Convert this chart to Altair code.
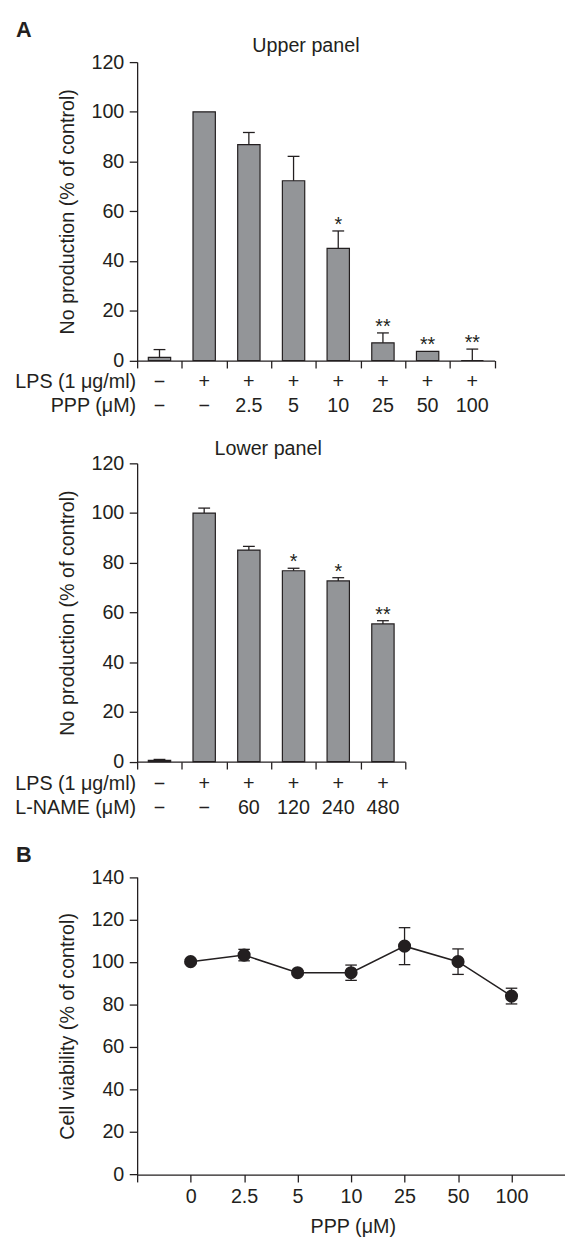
import json
import altair as alt
import pandas as pd

FONT = "Liberation Sans, Arial, Helvetica, sans-serif"
INK = "#231f20"
BAR_FILL = "#939598"

# ---------------- data ----------------
# A, upper panel
up_lps = ["−", "+", "+", "+", "+", "+", "+", "+"]
up_ppp = ["−", "−", "2.5", "5", "10", "25", "50", "100"]
up_val = [1.3, 100.0, 86.8, 72.3, 45.1, 7.1, 3.7, 0.0]
up_err = [3.1, 0.0, 4.9, 9.8, 7.0, 4.0, 0.0, 4.6]
up_sig = ["", "", "", "", "*", "**", "**", "**"]

# A, lower panel
lo_lps = ["−", "+", "+", "+", "+", "+"]
lo_lname = ["−", "−", "60", "120", "240", "480"]
lo_val = [0.5, 100.0, 85.1, 76.8, 72.7, 55.4]
lo_err = [0.4, 2.0, 1.5, 1.0, 1.3, 1.3]
lo_sig = ["", "", "", "*", "*", "**"]

# B
b_labels = ["0", "2.5", "5", "10", "25", "50", "100"]
b_val = [100.2, 103.3, 95.0, 95.0, 107.5, 100.2, 84.0]
b_err = [1.0, 2.7, 1.0, 3.6, 8.7, 6.0, 3.7]

Y_TITLE_A = "No production (% of control)"
Y_TITLE_B = "Cell viability (% of control)"

STEP = 45.33
U_W, U_H = STEP * 8, 302.7
L_W, L_H = STEP * 6, 302.6
B_W, B_PLOT_H, B_OFF = 434.0, 301.7, 12.7
B_H = B_PLOT_H + B_OFF

TXT = dict(font=FONT, fontSize=20, color=INK)


def single_text(text, x, y, **kw):
    props = dict(TXT)
    props.update(kw)
    return alt.Chart(pd.DataFrame({"t": [text]})).mark_text(**props).encode(
        x=alt.value(x), y=alt.value(y), text="t:N"
    )


def bar_panel(lps, conc, vals, errs, sig, row1, row2, width, height,
              title, title_x, title_y, letter=None, row_dy=(27.8, 52.3)):
    n = len(vals)
    df = pd.DataFrame({"i": list(range(n)), "v": vals, "e": errs, "sig": sig,
                       "lps": lps, "conc": conc})
    base = alt.Chart(df).transform_calculate(
        x0="datum.i + 0.25", x1="datum.i + 0.75", xc="datum.i + 0.5",
        top="datum.v + datum.e"
    )
    xscale = alt.Scale(domain=[0, n], nice=False, zero=False)
    yscale = alt.Scale(domain=[0, 120], nice=False)
    xaxis = alt.Axis(values=list(range(n + 1)), labels=False, title=None,
                     grid=False, tickSize=7.5)
    yaxis = alt.Axis(values=list(range(0, 121, 20)), title=Y_TITLE_A,
                     titleX=-64.1, titleY=height / 2, titleAngle=270,
                     titleAlign="center", titleBaseline="alphabetic",
                     grid=False, tickSize=8, labelPadding=5.5)
    bars = base.mark_rect(fill=BAR_FILL, stroke=INK, strokeWidth=1.2).encode(
        x=alt.X("x0:Q", scale=xscale, axis=xaxis, title=None),
        x2="x1:Q",
        y=alt.Y("v:Q", scale=yscale, axis=yaxis, title=Y_TITLE_A),
        y2=alt.datum(0),
    )
    eb = base.transform_filter("datum.e > 0")
    whisk = eb.mark_rule(color=INK, strokeWidth=1.3).encode(
        x=alt.X("xc:Q", title=None), y=alt.Y("v:Q", title=Y_TITLE_A), y2="top:Q"
    )
    cap = eb.mark_tick(orient="horizontal", size=12, thickness=1.3,
                       color=INK, opacity=1).encode(
        x=alt.X("xc:Q", title=None), y=alt.Y("top:Q", title=Y_TITLE_A)
    )
    stars = base.transform_filter("datum.sig != ''").mark_text(
        baseline="alphabetic", align="center", **TXT
    ).encode(x=alt.X("xc:Q", title=None), y=alt.Y("top:Q", title=Y_TITLE_A),
             text="sig:N")
    r1 = base.mark_text(baseline="alphabetic", align="center", **TXT).encode(
        x=alt.X("xc:Q", title=None), y=alt.value(height + row_dy[0]), text="lps:N"
    )
    r2 = base.mark_text(baseline="alphabetic", align="center", **TXT).encode(
        x=alt.X("xc:Q", title=None), y=alt.value(height + row_dy[1]), text="conc:N"
    )
    t1 = single_text(row1, -1, height + row_dy[0], align="right", baseline="alphabetic")
    t2 = single_text(row2, -1, height + row_dy[1], align="right", baseline="alphabetic")
    ttl = single_text(title, title_x, title_y, align="center", baseline="alphabetic")
    layers = [bars, whisk, cap, stars, r1, r2, t1, t2, ttl]
    if letter:
        layers.append(single_text(letter, -123, -25.7, align="left",
                                  baseline="alphabetic", fontWeight="bold",
                                  fontSize=22))
        # invisible layout anchor: fixes the page position of the plot origin
        anchor = alt.Chart(pd.DataFrame({"a": [0]})).mark_rule(
            opacity=0, strokeWidth=1).encode(
            x=alt.value(-130.5), y=alt.value(-45.5), y2=alt.value(0))
        layers.append(anchor)
    return alt.layer(*layers).properties(width=width, height=height)


upper = bar_panel(up_lps, up_ppp, up_val, up_err, up_sig,
                  "LPS (1 μg/ml)", "PPP (μM)", U_W, U_H,
                  "Upper panel", 171.2, -10.7, letter="A")
lower = bar_panel(lo_lps, lo_lname, lo_val, lo_err, lo_sig,
                  "LPS (1 μg/ml)", "L-NAME (μM)", L_W, L_H,
                  "Lower panel", 132.9, -8.0, row_dy=(28.4, 52.7))

# ---------------- panel B ----------------
dfb = pd.DataFrame({"i": list(range(1, len(b_val) + 1)), "v": b_val, "e": b_err})
bbase = alt.Chart(dfb).transform_calculate(lo="datum.v - datum.e",
                                           hi="datum.v + datum.e")
label_expr = json.dumps([""] + b_labels, ensure_ascii=False) + "[datum.value]"
bx_scale = alt.Scale(domain=[0, 8], nice=False, zero=False)
by_scale = alt.Scale(domain=[0, 140], range=[B_H, B_OFF], nice=False)
bx_axis = alt.Axis(values=list(range(0, 8)), labelExpr=label_expr,
                   title="PPP (μM)", titleX=218.7, titleY=59,
                   titleAlign="center", titleBaseline="alphabetic",
                   grid=False, tickSize=7.5, labelPadding=5, labelFlush=False)
by_axis = alt.Axis(values=list(range(0, 141, 20)), title=Y_TITLE_B,
                   titleX=-64.1, titleY=B_OFF + B_PLOT_H / 2, titleAngle=270,
                   titleAlign="center", titleBaseline="alphabetic",
                   grid=False, tickSize=8, labelPadding=5.5)

b_err_rule = bbase.mark_rule(color=INK, strokeWidth=1.3).encode(
    x=alt.X("i:Q", scale=bx_scale, axis=bx_axis, title="PPP (μM)"),
    y=alt.Y("lo:Q", scale=by_scale, axis=by_axis, title=Y_TITLE_B),
    y2="hi:Q",
)
b_cap_hi = bbase.mark_tick(orient="horizontal", size=11.7, thickness=1.3,
                           color=INK, opacity=1).encode(
    x=alt.X("i:Q", title="PPP (μM)"), y=alt.Y("hi:Q", title=Y_TITLE_B))
b_cap_lo = bbase.mark_tick(orient="horizontal", size=11.7, thickness=1.3,
                           color=INK, opacity=1).encode(
    x=alt.X("i:Q", title="PPP (μM)"), y=alt.Y("lo:Q", title=Y_TITLE_B))
b_line = bbase.mark_line(color=INK, strokeWidth=1.6).encode(
    x=alt.X("i:Q", title="PPP (μM)"), y=alt.Y("v:Q", title=Y_TITLE_B))
b_pts = bbase.mark_circle(color=INK, size=177, opacity=1).encode(
    x=alt.X("i:Q", title="PPP (μM)"), y=alt.Y("v:Q", title=Y_TITLE_B))
b_letter = single_text("B", -123, -2.3, align="left", baseline="alphabetic",
                       fontWeight="bold", fontSize=22)

panel_b = alt.layer(b_err_rule, b_cap_hi, b_cap_lo, b_line, b_pts, b_letter).properties(
    width=B_W, height=B_H)

chart = alt.vconcat(upper, lower, panel_b, spacing=104, bounds="flush").properties(
    padding={"left": 0, "top": 0, "right": 0, "bottom": 0}
).configure_view(stroke=None).configure_axis(
    domainColor=INK, tickColor=INK, labelColor=INK, titleColor=INK,
    labelFont=FONT, titleFont=FONT, labelFontSize=20, titleFontSize=20,
    titleFontWeight="normal", domainWidth=1.3, tickWidth=1.3, grid=False
)

chart.save("out.html", embed_options={"renderer": "svg", "actions": False})
